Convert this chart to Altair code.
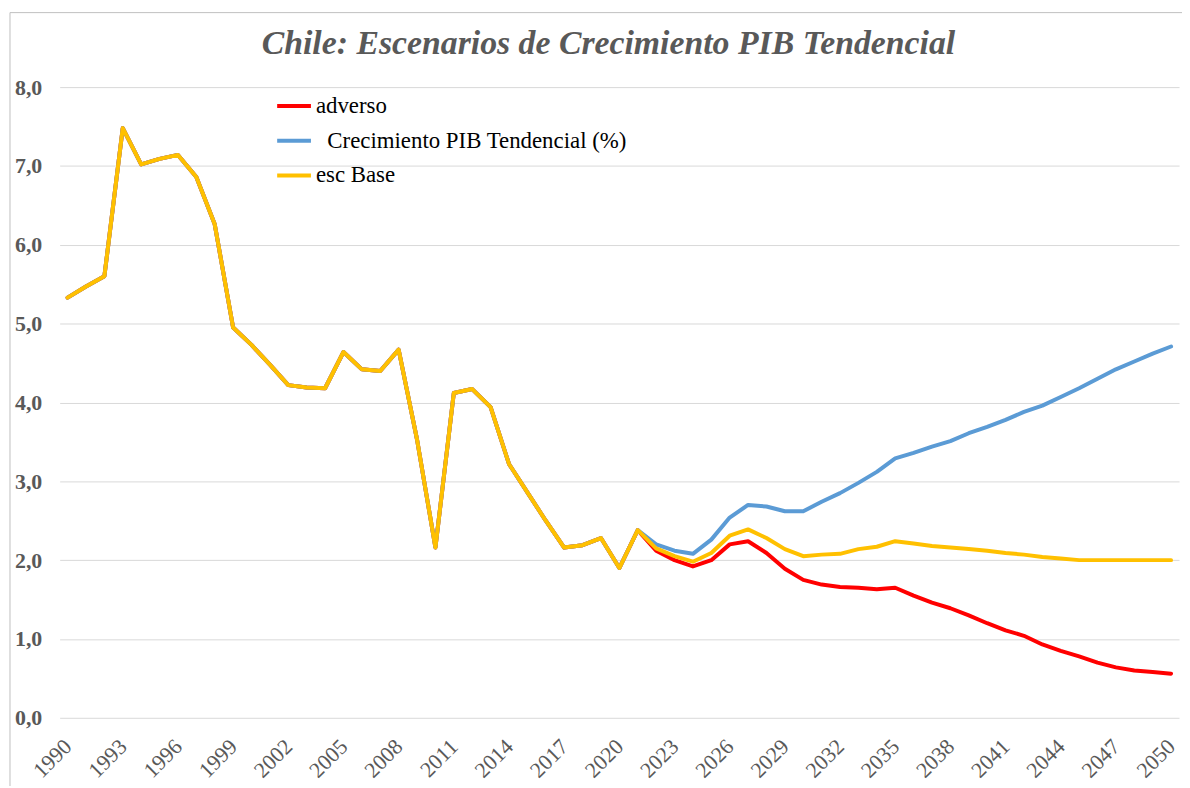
import altair as alt
import pandas as pd

years = list(range(1990, 2051))

# 1990-2021: common history for the three series
historico = [5.33, 5.47, 5.60, 7.48, 7.02, 7.09, 7.14, 6.86, 6.26, 4.95,
             4.73, 4.48, 4.22, 4.19, 4.18, 4.64, 4.42, 4.40, 4.67, 3.53,
             2.16, 4.12, 4.17, 3.94, 3.22, 2.86, 2.50, 2.16, 2.19, 2.28,
             1.90, 2.38]

# 2022-2050 projections
adverso_proy = [2.12, 2.00, 1.92, 2.00, 2.20, 2.24, 2.09, 1.89, 1.75, 1.69,
                1.66, 1.65, 1.63, 1.65, 1.55, 1.46, 1.39, 1.30, 1.20, 1.11,
                1.04, 0.93, 0.85, 0.78, 0.70, 0.64, 0.60, 0.58, 0.56]
tendencial_proy = [2.20, 2.12, 2.08, 2.26, 2.54, 2.70, 2.68, 2.62, 2.62, 2.74,
                   2.85, 2.98, 3.12, 3.29, 3.36, 3.44, 3.51, 3.61, 3.69, 3.78,
                   3.88, 3.96, 4.07, 4.18, 4.30, 4.42, 4.52, 4.62, 4.71]
base_proy = [2.15, 2.05, 1.98, 2.09, 2.31, 2.39, 2.28, 2.14, 2.05, 2.07,
             2.08, 2.14, 2.17, 2.24, 2.21, 2.18, 2.16, 2.14, 2.12, 2.09,
             2.07, 2.04, 2.02, 2.00, 2.00, 2.00, 2.00, 2.00, 2.00]

series_names = ["adverso", "\u200b\u2002Crecimiento PIB Tendencial (%)", "esc Base"]
series_colors = ["#FF0000", "#5B9BD5", "#FFC000"]
tick_years = list(range(1990, 2051, 3))
y_ticks = [0, 1, 2, 3, 4, 5, 6, 7, 8]
title_text = "Chile: Escenarios de Crecimiento PIB Tendencial"

rows = []
for name, proj in zip(series_names, [adverso_proy, tendencial_proy, base_proy]):
    for yr, v in zip(years, historico + proj):
        rows.append({"year": yr, "value": v, "serie": name})
df = pd.DataFrame(rows)

FONT = "Liberation Serif"
GRAY = "#595959"

lines = alt.Chart(df).mark_line(strokeWidth=4, strokeCap="round", strokeJoin="round").encode(
    x=alt.X("year:Q",
            scale=alt.Scale(domain=[1990, 2050], padding=8, nice=False, zero=False),
            axis=alt.Axis(values=tick_years, format="d", labelAngle=-45,
                          labelAlign="right", labelBaseline="middle",
                          labelPadding=25, labelFontSize=22, labelFont=FONT,
                          labelColor=GRAY, grid=False, domain=False, ticks=False,
                          title=None, labelOverlap=False)),
    y=alt.Y("value:Q",
            scale=alt.Scale(domain=[0, 8], nice=False, zero=True),
            axis=alt.Axis(values=y_ticks,
                          labelExpr="replace(format(datum.value, '.1f'), '.', ',')",
                          labelFontSize=22, labelFont=FONT, labelFontWeight="bold",
                          labelColor=GRAY, labelPadding=18, grid=True,
                          gridColor="#D9D9D9", gridWidth=1, domain=False,
                          ticks=False, title=None)),
    color=alt.Color("serie:N",
                    scale=alt.Scale(domain=series_names, range=series_colors),
                    legend=alt.Legend(orient="none", legendX=217, legendY=0,
                                      title=None, symbolType="stroke",
                                      symbolSize=1156, symbolStrokeWidth=4,
                                      labelFont=FONT, labelFontSize=23,
                                      labelColor="black", rowPadding=4,
                                      labelLimit=500,
                                      labelOffset=3, padding=0, direction="vertical")),
)

frame_src = pd.DataFrame({"k": [0]})
frame_left = alt.Chart(frame_src).mark_rule(color="#BFBFBF", strokeWidth=1).encode(
    x=alt.value(-50), y=alt.value(-75), y2=alt.value(720))
frame_top = alt.Chart(frame_src).mark_rule(color="#BFBFBF", strokeWidth=1).encode(
    x=alt.value(-50), x2=alt.value(1140), y=alt.value(-75))

chart = alt.layer(frame_left, frame_top, lines).properties(
    width=1127,
    height=635,
    padding={"left": 52, "top": 77, "right": 3, "bottom": 66},
    autosize=alt.AutoSizeParams(type="none"),
    title=alt.TitleParams(title_text, font=FONT, fontSize=34, fontWeight="bold",
                          fontStyle="italic", color=GRAY, anchor="middle",
                          dx=-11, offset=-76, baseline="alphabetic"),
).configure_view(stroke=None)

chart.save("out.html", embed_options={"renderer": "svg", "actions": False})
